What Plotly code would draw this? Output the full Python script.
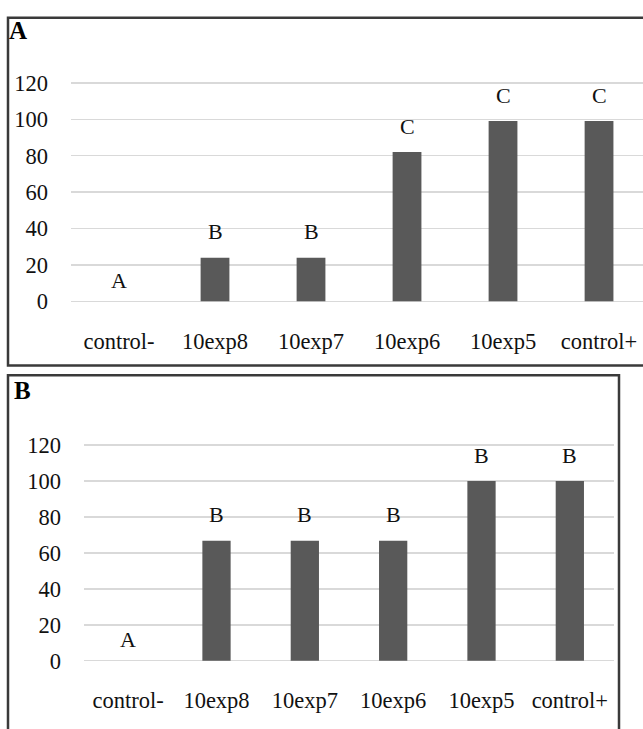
import plotly.graph_objects as go

categories = ["control-", "10exp8", "10exp7", "10exp6", "10exp5", "control+"]
values_a = [0, 24, 24, 82, 99, 99]
letters_a = ["A", "B", "B", "C", "C", "C"]
values_b = [0, 66.7, 66.7, 66.7, 100, 100]
letters_b = ["A", "B", "B", "B", "B", "B"]
tick_vals = [0, 20, 40, 60, 80, 100, 120]
tick_text = ["0", "20", "40", "60", "80", "100", "120"]

W, H = 643, 729
FONT = "Liberation Serif"
BAR = "#595959"
GRID = "#d9d9d9"
TXT = "#111111"


def px(x):
    return x / W


def py(y):
    return 1 - y / H


fig = go.Figure()
fig.add_trace(go.Bar(x=categories, y=values_a, marker=dict(color=BAR, line=dict(width=0)),
                     width=0.30, xaxis="x", yaxis="y", showlegend=False, hoverinfo="skip"))
fig.add_trace(go.Bar(x=categories, y=values_b, marker=dict(color=BAR, line=dict(width=0)),
                     width=0.32, xaxis="x2", yaxis="y2", showlegend=False, hoverinfo="skip"))

annotations = []
for cat, v, lab in zip(categories, values_a, letters_a):
    annotations.append(dict(x=cat, y=v, xref="x", yref="y", text=lab, showarrow=False,
                            yanchor="middle", yshift=(21 if v == 0 else 26),
                            font=dict(family=FONT, size=22, color=TXT)))
for cat, v, lab in zip(categories, values_b, letters_b):
    annotations.append(dict(x=cat, y=v, xref="x2", yref="y2", text=lab, showarrow=False,
                            yanchor="middle", yshift=(21 if v == 0 else 26),
                            font=dict(family=FONT, size=22, color=TXT)))

annotations.append(dict(x=px(7), y=py(5), xref="paper", yref="paper", text="<b>A</b>",
                        showarrow=False, xanchor="left", yanchor="top",
                        font=dict(family=FONT, size=25, color="#000")))
annotations.append(dict(x=px(12), y=py(376), xref="paper", yref="paper", text="<b>B</b>",
                        showarrow=False, xanchor="left", yanchor="top",
                        font=dict(family=FONT, size=25, color="#000")))

axis_font = dict(family=FONT, size=22.5, color=TXT)

fig.update_layout(
    width=W, height=H, autosize=False,
    margin=dict(l=0, r=0, t=0, b=0),
    paper_bgcolor="white", plot_bgcolor="white",
    annotations=annotations,
    xaxis=dict(domain=[px(71), 1.0], range=[-0.5, 5.458], type="category",
               showgrid=False, showline=False, ticks="", tickfont=axis_font,
               ticklabelstandoff=22, anchor="y", fixedrange=True),
    yaxis=dict(domain=[py(301.875), py(73.125)], range=[-1, 121],
               tickvals=tick_vals, ticktext=tick_text, showgrid=True, gridcolor=GRID,
               gridwidth=1.5, zeroline=False, showline=False, ticks="",
               tickfont=axis_font, ticklabelstandoff=22, anchor="x", fixedrange=True),
    xaxis2=dict(domain=[px(84), px(614)], range=[-0.5, 5.5], type="category",
                showgrid=False, showline=False, ticks="", tickfont=axis_font,
                ticklabelstandoff=22, anchor="y2", fixedrange=True),
    yaxis2=dict(domain=[py(671.85), py(446.15)], range=[-1, 121],
                tickvals=tick_vals, ticktext=tick_text, showgrid=True, gridcolor=GRID,
                gridwidth=1.5, zeroline=False, showline=False, ticks="",
                tickfont=axis_font, ticklabelstandoff=22, anchor="x2", fixedrange=True),
    shapes=[
        dict(type="rect", xref="paper", yref="paper", x0=px(8), x1=1.02, y0=py(366), y1=py(8),
             line=dict(color="#3a3a3a", width=2.5), fillcolor="rgba(0,0,0,0)", layer="above"),
        dict(type="rect", xref="paper", yref="paper", x0=px(8), x1=px(619), y0=-0.02, y1=py(376),
             line=dict(color="#3a3a3a", width=2.5), fillcolor="rgba(0,0,0,0)", layer="above"),
    ],
)

fig.write_html(
    "out.html",
    include_plotlyjs=True,
    config={"displayModeBar": False, "staticPlot": True},
    post_script="document.body.style.margin='0';document.documentElement.style.overflow='hidden';",
)
